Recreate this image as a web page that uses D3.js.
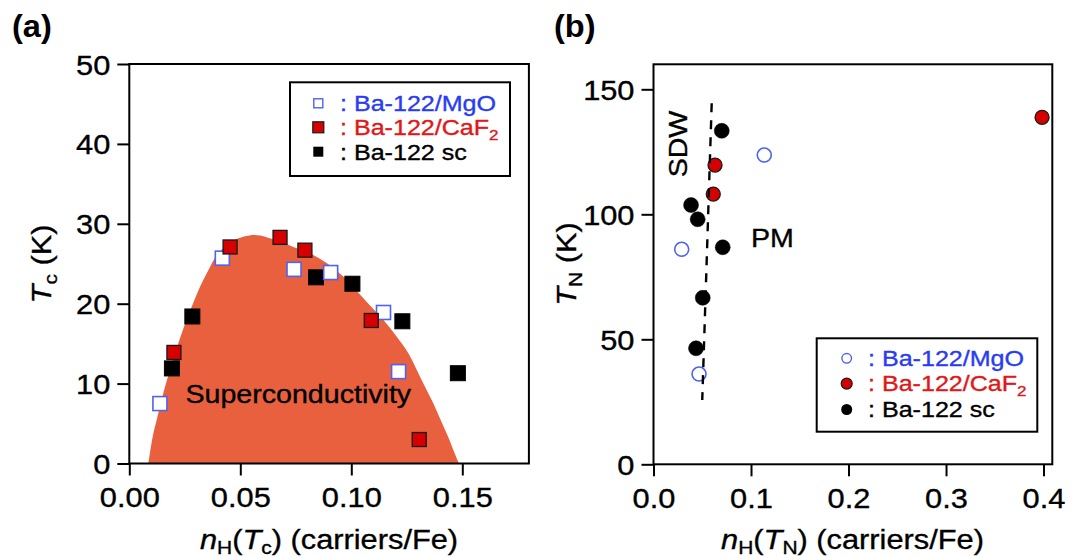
<!DOCTYPE html>
<html><head><meta charset="utf-8">
<script src="https://cdn.jsdelivr.net/npm/d3@7"></script>
<style>
body{margin:0;background:#fff;}
svg{display:block;}
text{font-family:"Liberation Sans",Arial,Helvetica,sans-serif;}
</style>
</head><body><div id="chart"></div>
<script>
// ---------- data ----------
const tcXTicks = [0, 0.05, 0.10, 0.15];
const tcXTickLabels = ["0.00", "0.05", "0.10", "0.15"];
const tcYTicks = [0, 10, 20, 30, 40, 50];
const tnXTicks = [0, 0.1, 0.2, 0.3, 0.4];
const tnXTickLabels = ["0.0", "0.1", "0.2", "0.3", "0.4"];
const tnYTicks = [0, 50, 100, 150];
const seriesLabels = ["Ba-122/MgO", "Ba-122/CaF", "Ba-122 sc"];

// panel (a): nH(Tc) vs Tc
const tcMgO  = [[0.0138,7.5],[0.0419,25.7],[0.0742,24.3],[0.0907,23.9],[0.1145,18.9],[0.1213,11.5]];
const tcCaF2 = [[0.0454,27.1],[0.0679,28.3],[0.0791,26.7],[0.0201,13.9],[0.1090,17.9],[0.1306,3.0]];
const tcSc   = [[0.0192,11.9],[0.0284,18.4],[0.0841,23.3],[0.1005,22.5],[0.1230,17.8],[0.1480,11.3]];
// superconducting dome outline
const scDome = [[0.0086,0],[0.0105,3.3],[0.0123,5.4],[0.0161,9.6],[0.0206,13.8],[0.0258,18.0],[0.0288,20.1],
  [0.0318,22.1],[0.0356,24.2],[0.0401,26.3],[0.0469,27.9],[0.0566,28.6],[0.0664,27.9],[0.0739,27.1],
  [0.0814,26.3],[0.0889,25.1],[0.0964,23.4],[0.1009,22.1],[0.1077,20.0],[0.1144,18.0],[0.1204,15.9],
  [0.1257,13.8],[0.1295,11.7],[0.1332,9.6],[0.1370,7.5],[0.1403,5.4],[0.1437,3.3],[0.1467,1.2],[0.1485,0]];

// panel (b): nH(TN) vs TN
const tnMgO  = [[0.1136,123.7],[0.0289,86.0],[0.0467,36.1]];
const tnCaF2 = [[0.3985,138.8],[0.0631,119.7],[0.0613,108.1]];
const tnSc   = [[0.0700,133.4],[0.0385,103.7],[0.0453,98.0],[0.0710,86.8],[0.0505,66.6],[0.0436,46.4]];
const sdwBoundary = [[0.0597,144.4],[0.0500,25.7]];

// ---------- setup ----------
const W = 1081, H = 558;
const FONT = 28, SX = 1.1;
const BLUE_TXT = "#2a3cf2", RED_TXT = "#e01818";
const BLUE_MK = "#4f62f2", RED_FILL = "#d60000", DOME = "#e9603f";

const svg = d3.select("#chart").append("svg").attr("width", W).attr("height", H);

function rich(x, y, parts, opt = {}) {
  const g = svg.append("g")
    .attr("transform", `translate(${x},${y}) rotate(${opt.rot||0}) scale(${opt.sx||SX},1)`);
  const col = opt.fill || "#000";
  const t = g.append("text").attr("x", 0).attr("y", 0)
    .attr("text-anchor", opt.anchor || "start")
    .attr("font-size", opt.size || FONT)
    .attr("font-weight", opt.bold ? "bold" : null)
    .attr("fill", col).attr("stroke", col).attr("stroke-width", opt.bold ? 0 : 0.35);
  let shift = 0;
  parts.forEach(p => {
    const s = t.append("tspan").text(p.t);
    const target = p.sub ? (opt.subShift || 6) : 0;
    const dy = target - shift;
    if (dy !== 0) s.attr("dy", dy);
    shift = target;
    if (p.sub) s.attr("font-size", (opt.size || FONT) * 0.68);
    if (p.it) s.attr("font-style", "italic");
  });
  return g;
}

function styleAxis(g, isX, offX, offY) {
  g.attr("font-family", null).attr("font-size", null);
  g.select(".domain").remove();
  g.selectAll(".tick line").attr("stroke", "#000").attr("stroke-width", 2);
  g.selectAll(".tick text")
    .attr("x", null).attr("y", null).attr("dy", null)
    .attr("fill", "#000").attr("stroke", "#000").attr("stroke-width", 0.35)
    .attr("font-size", FONT)
    .attr("text-anchor", isX ? "middle" : "end")
    .attr("transform", `translate(${offX},${offY}) scale(${SX},1)`);
}

// ---------- panel (a) ----------
const xA = d3.scaleLinear().domain([0, 0.18]).range([129.3, 528.9]);
const yA = d3.scaleLinear().domain([0, 50]).range([463.5, 64]);

svg.append("path")
  .attr("d", d3.line().x(d => xA(d[0])).y(d => yA(d[1])).curve(d3.curveCatmullRom.alpha(0.5))(scDome) + "Z")
  .attr("fill", DOME);

rich(298.3, 402.7, [{t:"Superconductivity"}], {anchor:"middle", size:26});

svg.append("g").attr("transform", `translate(0,${yA(0)})`)
  .call(d3.axisBottom(xA).tickValues(tcXTicks).tickFormat((d,i) => tcXTickLabels[i]).tickSize(12).tickSizeOuter(0))
  .call(g => styleAxis(g, true, 0, 43.5));
svg.append("g").attr("transform", `translate(${xA(0)},0)`)
  .call(d3.axisLeft(yA).tickValues(tcYTicks).tickSize(12).tickSizeOuter(0))
  .call(g => styleAxis(g, false, -19, 10));

svg.append("rect")
  .attr("x", xA(0)).attr("y", yA(50))
  .attr("width", xA(0.18) - xA(0)).attr("height", yA(0) - yA(50))
  .attr("fill", "none").attr("stroke", "#000").attr("stroke-width", 2);

function squares(data, s, fill, stroke, sw) {
  svg.append("g").selectAll("rect").data(data).join("rect")
    .attr("x", d => xA(d[0]) - s/2).attr("y", d => yA(d[1]) - s/2)
    .attr("width", s).attr("height", s)
    .attr("fill", fill).attr("stroke", stroke).attr("stroke-width", sw);
}
squares(tcSc, 15, "#000", "#000", 1);
squares(tcMgO, 14, "#fff", BLUE_MK, 1.6);
squares(tcCaF2, 14, RED_FILL, "#1a1a1a", 1.3);

// legend (a)
svg.append("rect").attr("x", 290).attr("y", 82.3).attr("width", 220).attr("height", 93.7)
  .attr("fill", "#fff").attr("stroke", "#000").attr("stroke-width", 2);
const legAy = [103.3, 127.3, 151.7];
svg.append("rect").attr("x", 318.3-4.5).attr("y", legAy[0]-4.5).attr("width", 9).attr("height", 9)
  .attr("fill", "#fff").attr("stroke", BLUE_MK).attr("stroke-width", 1.4);
svg.append("rect").attr("x", 318.3-5.5).attr("y", legAy[1]-5.5).attr("width", 11).attr("height", 11)
  .attr("fill", RED_FILL).attr("stroke", "#1a1a1a").attr("stroke-width", 1.2);
svg.append("rect").attr("x", 318.3-5).attr("y", legAy[2]-5).attr("width", 10).attr("height", 10)
  .attr("fill", "#000");
rich(340, legAy[0]+7.8, [{t:": "+seriesLabels[0]}], {size:22, fill:BLUE_TXT, sx:1.14});
rich(340, legAy[1]+7.8, [{t:": "+seriesLabels[1]},{t:"2",sub:true}], {size:22, fill:RED_TXT, sx:1.14, subShift:5});
rich(340, legAy[2]+7.8, [{t:": "+seriesLabels[2]}], {size:22, fill:"#000", sx:1.14});

// labels (a)
rich(12, 37, [{t:"(a)"}], {bold:true, size:31, sx:1.05});
rich(329, 549, [{t:"n",it:true},{t:"H",sub:true},{t:"("},{t:"T",it:true},{t:"c",sub:true},{t:") (carriers/Fe)"}],
  {anchor:"middle", size:28, subShift:5});
rich(51, 264, [{t:"T",it:true},{t:"c",sub:true},{t:" (K)"}], {anchor:"middle", size:28, rot:-90});

// ---------- panel (b) ----------
const xB = d3.scaleLinear().domain([0, 0.409]).range([653.5, 1052.3]);
const yB = d3.scaleLinear().domain([0, 160]).range([464.3, 64.3]);

svg.append("g").attr("transform", `translate(0,${yB(0)})`)
  .call(d3.axisBottom(xB).tickValues(tnXTicks).tickFormat((d,i) => tnXTickLabels[i]).tickSize(12).tickSizeOuter(0))
  .call(g => styleAxis(g, true, 0, 43.5));
svg.append("g").attr("transform", `translate(${xB(0)},0)`)
  .call(d3.axisLeft(yB).tickValues(tnYTicks).tickSize(12).tickSizeOuter(0))
  .call(g => styleAxis(g, false, -19, 10));

svg.append("rect")
  .attr("x", xB(0)).attr("y", yB(160))
  .attr("width", xB(0.409) - xB(0)).attr("height", yB(0) - yB(160))
  .attr("fill", "none").attr("stroke", "#000").attr("stroke-width", 2);

function circles(data, r, fill, stroke, sw) {
  svg.append("g").selectAll("circle").data(data).join("circle")
    .attr("cx", d => xB(d[0])).attr("cy", d => yB(d[1])).attr("r", r)
    .attr("fill", fill).attr("stroke", stroke).attr("stroke-width", sw);
}
circles(tnMgO, 7, "#fff", BLUE_MK, 1.6);
circles(tnSc, 7.5, "#000", "#000", 0.5);
circles(tnCaF2, 7, RED_FILL, "#1a1a1a", 1.3);

svg.append("path")
  .attr("d", d3.line().x(d => xB(d[0])).y(d => yB(d[1]))(sdwBoundary))
  .attr("fill", "none").attr("stroke", "#000").attr("stroke-width", 2.4)
  .attr("stroke-dasharray", "9,8");

rich(686.7, 144, [{t:"SDW"}], {anchor:"middle", size:26, rot:-90});
rich(751, 246.7, [{t:"PM"}], {size:26});

// legend (b)
svg.append("rect").attr("x", 816.7).attr("y", 338.3).attr("width", 220.6).attr("height", 93.4)
  .attr("fill", "#fff").attr("stroke", "#000").attr("stroke-width", 2);
const legBy = [358.3, 383.6, 409.5];
svg.append("circle").attr("cx", 846.7).attr("cy", legBy[0]).attr("r", 4.8)
  .attr("fill", "#fff").attr("stroke", BLUE_MK).attr("stroke-width", 1.4);
svg.append("circle").attr("cx", 846.7).attr("cy", legBy[1]).attr("r", 5.5)
  .attr("fill", RED_FILL).attr("stroke", "#1a1a1a").attr("stroke-width", 1.2);
svg.append("circle").attr("cx", 846.7).attr("cy", legBy[2]).attr("r", 5.5)
  .attr("fill", "#000");
rich(868, legBy[0]+7.8, [{t:": "+seriesLabels[0]}], {size:22, fill:BLUE_TXT, sx:1.14});
rich(868, legBy[1]+7.8, [{t:": "+seriesLabels[1]},{t:"2",sub:true}], {size:22, fill:RED_TXT, sx:1.14, subShift:5});
rich(868, legBy[2]+7.8, [{t:": "+seriesLabels[2]}], {size:22, fill:"#000", sx:1.14});

// labels (b)
rich(554, 37, [{t:"(b)"}], {bold:true, size:31, sx:1.05});
rich(852.5, 549, [{t:"n",it:true},{t:"H",sub:true},{t:"("},{t:"T",it:true},{t:"N",sub:true},{t:") (carriers/Fe)"}],
  {anchor:"middle", size:28, subShift:5});
rich(576, 264, [{t:"T",it:true},{t:"N",sub:true},{t:" (K)"}], {anchor:"middle", size:28, rot:-90});
</script>
</body></html>
